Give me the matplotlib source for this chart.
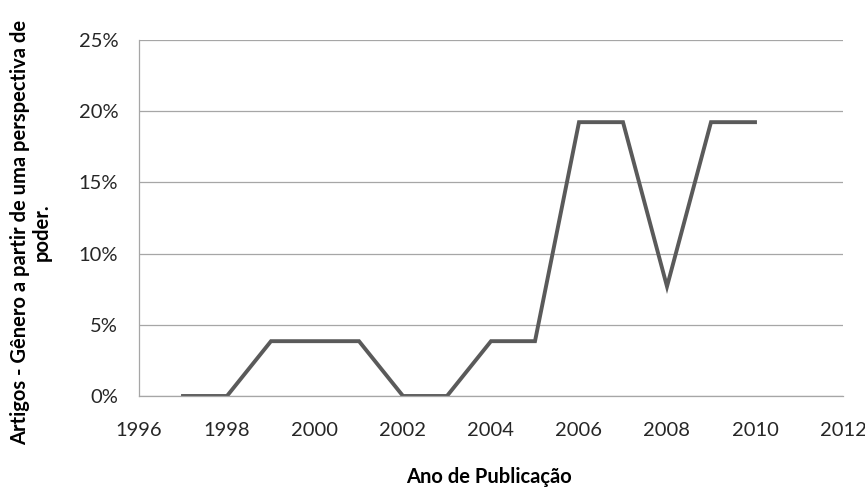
import matplotlib
matplotlib.use("Agg")
import matplotlib.pyplot as plt
from matplotlib.ticker import FuncFormatter

# data (share of articles per year, %)
years = [1997, 1998, 1999, 2000, 2001, 2002, 2003, 2004, 2005, 2006, 2007, 2008, 2009, 2010]
share = [0.0, 0.0, 3.85, 3.85, 3.85, 0.0, 0.0, 3.85, 3.85, 19.23, 19.23, 7.69, 19.23, 19.23]

x_ticks = [1996, 1998, 2000, 2002, 2004, 2006, 2008, 2010, 2012]
y_ticks = [0, 5, 10, 15, 20, 25]

plt.rcParams["font.family"] = ["Lato", "DejaVu Sans"]

W, H = 865, 490
fig = plt.figure(figsize=(W / 100, H / 100), dpi=100)
# plot area in pixels: left 139, right 843, top 40, bottom 396
ax = fig.add_axes([139 / W, 1 - 396 / H, (843 - 139) / W, (396 - 40) / H])

ax.plot(years, share, color="#5a5a5a", linewidth=2.8, solid_joinstyle="miter")

ax.set_xlim(1996, 2012)
ax.set_ylim(0, 25)
ax.set_xticks(x_ticks)
ax.set_yticks(y_ticks)
ax.yaxis.set_major_formatter(FuncFormatter(lambda v, p: f"{v:.0f}%"))
ax.grid(axis="y", color="#a6a6a6", linewidth=0.9)
ax.set_axisbelow(True)

for side in ("top", "right"):
    ax.spines[side].set_visible(False)
for side in ("left", "bottom"):
    ax.spines[side].set_color("#a6a6a6")
    ax.spines[side].set_linewidth(0.9)

ax.tick_params(length=0, labelsize=14.5, colors="#262626")
ax.tick_params(axis="y", pad=15)
ax.tick_params(axis="x", pad=19)

ax.set_xlabel("Ano de Publicação", fontsize=14.5, fontweight="bold", va="center")
ax.xaxis.set_label_coords(0.497, (396 - 477) / 356)
ax.set_ylabel("Artigos - Gênero a partir de uma perspectiva de\npoder.",
              fontsize=14.5, fontweight="bold", va="center", linespacing=1.15)
ax.yaxis.set_label_coords((31 - 139) / 704, (396 - 232) / 356)

fig.savefig("out.png", dpi=100)
